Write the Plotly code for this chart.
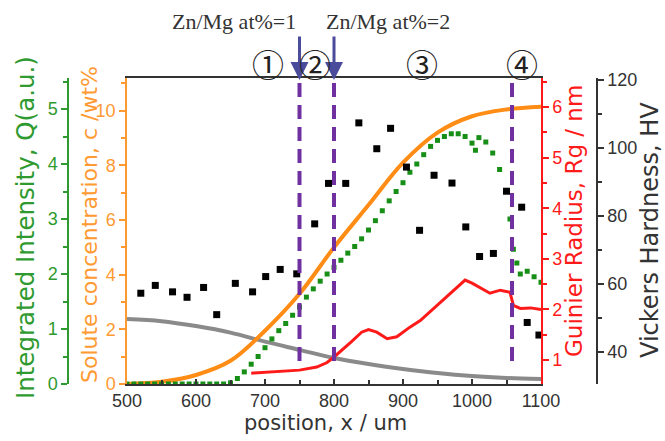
import plotly.graph_objects as go

# ---------------- data ----------------
# smooth concentration curves (wt%, left orange axis)
x_curve = [500, 550, 600, 650, 700, 750, 800, 850, 900, 950, 1000, 1050, 1100]
c_gray = [2.38, 2.30, 2.12, 1.88, 1.55, 1.25, 0.95, 0.73, 0.55, 0.40, 0.29, 0.22, 0.18]
c_orange = [0.0, 0.08, 0.33, 0.85, 1.95, 3.3, 5.0, 6.55, 8.1, 9.2, 9.8, 10.05, 10.15]

# integrated intensity Q (a.u.)
x_q = [500, 510, 520, 530, 540, 550, 560, 570, 580, 590, 600, 610, 620, 630, 640, 650,
       660, 670, 680, 690, 700, 710, 720, 730, 740, 750, 760, 770, 780, 790, 800,
       810, 820, 830, 840, 850, 860, 870, 880, 890, 900, 910, 920, 930, 940, 950,
       960, 970, 980, 990, 1000, 1005, 1010, 1020, 1030, 1040, 1050, 1055, 1060,
       1065, 1070, 1080, 1090, 1100]
q_vals = [0, 0, 0, 0, 0, 0, 0, 0, 0, 0, 0, 0, 0, 0, 0, 0.02,
          0.1, 0.22, 0.36, 0.5, 0.66, 0.82, 0.97, 1.1, 1.25, 1.4, 1.58, 1.73, 1.87, 2.0, 2.12,
          2.25, 2.38, 2.5, 2.64, 2.8, 2.97, 3.15, 3.33, 3.5, 3.66, 3.85, 4.0, 4.17, 4.32, 4.43,
          4.5, 4.55, 4.55, 4.5, 4.38, 4.25, 4.48, 4.4, 4.2, 3.9, 3.5, 3.0, 2.45,
          2.2, 2.0, 2.05, 1.95, 1.85]

# Guinier radius Rg (nm)
x_rg = [680, 700, 725, 750, 775, 790, 800, 812, 825, 840, 850, 862, 877, 891, 910, 925,
        943, 968, 990, 1000, 1012, 1026, 1041, 1055, 1060, 1070, 1085, 1100]
rg_vals = [0.74, 0.76, 0.78, 0.8, 0.86, 0.95, 1.06, 1.2, 1.36, 1.55, 1.6, 1.55, 1.42, 1.46,
           1.65, 1.78, 2.0, 2.3, 2.58, 2.52, 2.42, 2.32, 2.38, 2.34, 2.08, 2.02, 2.03, 2.0]

# Vickers hardness HV
x_hv = [520, 541, 566, 587, 611, 630, 657, 682, 701, 722, 746, 772, 792, 817, 836, 862,
        882, 905, 924, 945, 971, 991, 1011, 1031, 1050, 1072, 1080, 1097]
hv_vals = [57.3, 59.6, 57.7, 56.1, 59.0, 51.0, 60.2, 57.7, 62.2, 64.3, 63.0, 77.7, 89.6, 89.6,
           107.4, 99.8, 105.8, 94.4, 75.8, 92.0, 89.7, 76.8, 68.1, 69.0, 87.3, 82.6, 48.7, 45.0]

dash_x = [750, 800, 1058]
arrow_x = [750, 800]
arrow_texts = ["Zn/Mg at%=1", "Zn/Mg at%=2"]
region_labels = ["①", "②", "③", "④"]
region_x = [705, 773, 927, 1072]

x_ticks = [500, 600, 700, 800, 900, 1000, 1100]

# ---------------- layout helpers ----------------
W, H = 665, 441
T_PX, B_PX = 78, 384


def px_x(p):
    return p / W


def px_y(p):
    return (B_PX - p) / (B_PX - T_PX)


GREEN = '#2f9a2f'
ORANGE = '#ff9a33'
RED = '#ff1a1a'
TICKFAM = 'Liberation Sans, Arial, sans-serif'
TITLEFAM = 'DejaVu Sans, sans-serif'

fig = go.Figure()
fig.add_trace(go.Scatter(x=x_curve, y=c_gray, mode='lines', yaxis='y',
                         line=dict(color='#8a8a8a', width=4, shape='spline')))
fig.add_trace(go.Scatter(x=x_curve, y=c_orange, mode='lines', yaxis='y',
                         line=dict(color='#ff8c14', width=4, shape='spline')))
fig.add_trace(go.Scatter(x=x_q, y=q_vals, mode='markers', yaxis='y2',
                         marker=dict(symbol='square', size=5, color='#178f17', line=dict(width=0))))
fig.add_trace(go.Scatter(x=x_rg, y=rg_vals, mode='lines', yaxis='y3',
                         line=dict(color=RED, width=3)))
fig.add_trace(go.Scatter(x=x_hv, y=hv_vals, mode='markers', yaxis='y4',
                         marker=dict(symbol='square', size=7, color='black', line=dict(width=0))))


def yax(color, rng, dtick, mdtick, **kw):
    d = dict(range=rng, tick0=0, dtick=dtick, ticks='outside', ticklen=6, tickwidth=1.5,
             tickcolor=color, showline=True, linecolor=color, linewidth=1.5,
             showgrid=False, zeroline=False, automargin=False,
             tickfont=dict(family=TICKFAM, size=18, color=color),
             minor=dict(tick0=0, dtick=mdtick, ticks='outside', ticklen=4, tickcolor=color))
    d.update(kw)
    return d


fig.update_layout(
    template='none',
    width=W, height=H,
    margin=dict(l=0, r=0, t=T_PX, b=H - B_PX, autoexpand=False),
    paper_bgcolor='white', plot_bgcolor='white', showlegend=False,
    xaxis=dict(domain=[127 / W, 541 / W], range=[500, 1100], tickvals=x_ticks,
               ticks='inside', ticklen=5, tickwidth=1.5, tickcolor='#333',
               showline=True, linecolor='#333', linewidth=1.5, mirror=True,
               showgrid=False, zeroline=False, automargin=False,
               tickfont=dict(family=TICKFAM, size=18, color='#333'),
               minor=dict(tick0=500, dtick=50, ticks='inside', ticklen=4, tickcolor='#333')),
    yaxis=yax(ORANGE, [0, 11.2], 2, 1, anchor='x', side='left'),
    yaxis2=yax(GREEN, [0, 5.564], 1, 0.5, anchor='free', position=68 / W, side='left', overlaying='y'),
    yaxis3=yax(RED, [0.526, 6.573], 1, 0.5, anchor='x', side='right', overlaying='y'),
    yaxis4=yax('#333', [30.6, 120.6], 20, 10, anchor='free', position=597 / W, side='right',
               overlaying='y'),
)

# axis titles as rotated annotations
titles = [
    ("Integrated Intensity, Q(a.u.)", 25, 228, GREEN, 24.5),
    ("Solute concentration, c /wt%", 89, 225, ORANGE, 22),
    ("Guinier Radius, Rg / nm", 574, 221, RED, 23),
    ("Vickers Hardness, HV", 650, 230, '#333', 24),
]
for txt, xp, yp, col, sz in titles:
    fig.add_annotation(text=txt, xref='paper', yref='paper', x=px_x(xp), y=px_y(yp),
                       textangle=-90, showarrow=False, xanchor='center', yanchor='middle',
                       font=dict(family=TITLEFAM, size=sz, color=col))

fig.add_annotation(text="position, x / um", xref='paper', yref='paper', x=px_x(325), y=px_y(423),
                   showarrow=False, xanchor='center', yanchor='middle',
                   font=dict(family=TITLEFAM, size=21, color='#333'))

# dashed region boundaries
for xv in dash_x:
    fig.add_shape(type='line', xref='x', yref='paper', x0=xv, x1=xv, y0=px_y(83), y1=px_y(362),
                  line=dict(color='#7030a0', width=4, dash='14px,8px'), layer='above')

# arrows + labels
text_px = [234, 388]
for xv, txt, tp in zip(arrow_x, arrow_texts, text_px):
    fig.add_annotation(x=xv, y=px_y(80), xref='x', yref='paper', text='', showarrow=True,
                       ax=0, ay=-45, arrowhead=2, arrowsize=1.2, arrowwidth=3,
                       arrowcolor='#4b4b9b')
    fig.add_annotation(text=txt, xref='paper', yref='paper', x=px_x(tp), y=px_y(21),
                       showarrow=False, xanchor='center', yanchor='middle',
                       font=dict(family='Liberation Serif, Times New Roman, serif', size=22,
                                 color='#333'))

for lab, xv in zip(region_labels, region_x):
    fig.add_annotation(text=lab, xref='x', yref='paper', x=xv, y=px_y(63), showarrow=False,
                       xanchor='center', yanchor='middle',
                       font=dict(family='Noto Sans CJK JP, DejaVu Sans', size=32, color='#222'))

fig.write_html("out.html", config={'displayModeBar': False},
               post_script="document.body.style.margin='0';document.body.style.padding='0';")
